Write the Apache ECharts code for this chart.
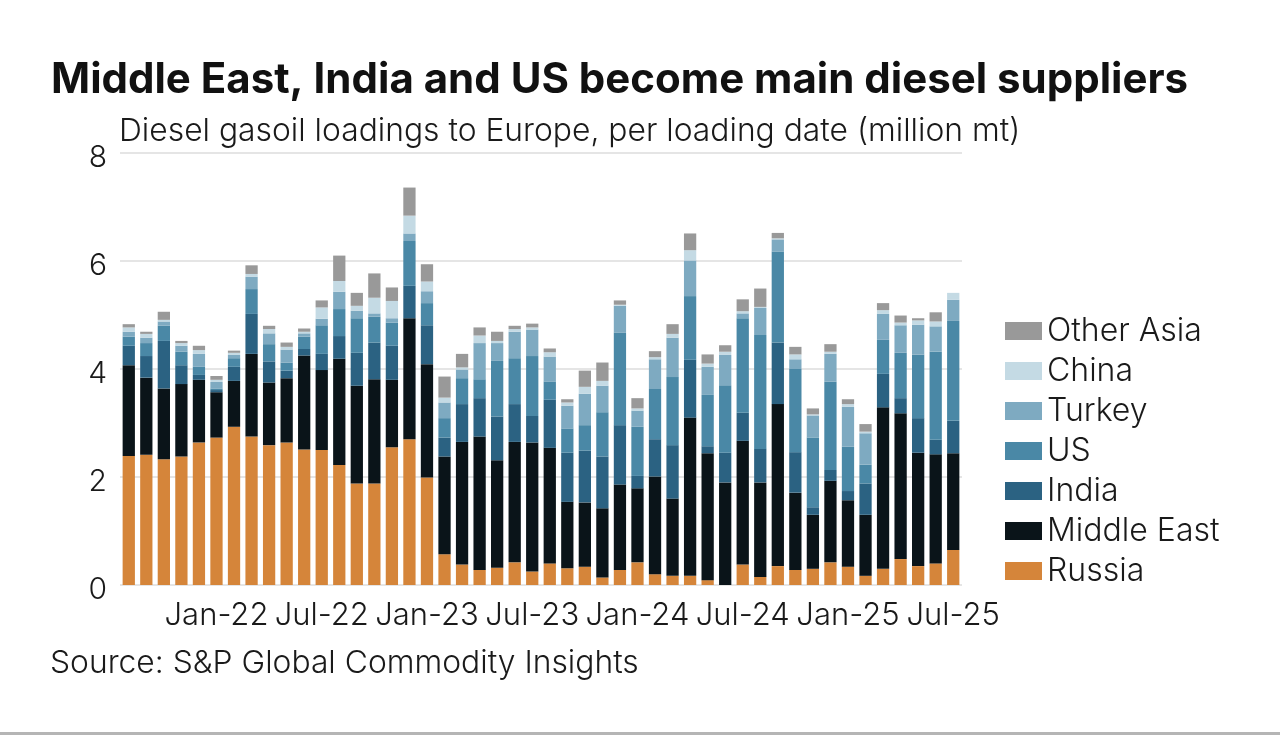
<!DOCTYPE html>
<html>
<head>
<meta charset="utf-8">
<script src="https://cdn.jsdelivr.net/npm/echarts@6/dist/echarts.min.js"></script>
<style>
html,body{margin:0;padding:0;background:#fff;}
#chart{width:1280px;height:735px;}
</style>
</head>
<body>
<div id="chart"></div>
<script>
var months = ['Aug-21','Sep-21','Oct-21','Nov-21','Dec-21',
  'Jan-22','Feb-22','Mar-22','Apr-22','May-22','Jun-22','Jul-22','Aug-22','Sep-22','Oct-22','Nov-22','Dec-22',
  'Jan-23','Feb-23','Mar-23','Apr-23','May-23','Jun-23','Jul-23','Aug-23','Sep-23','Oct-23','Nov-23','Dec-23',
  'Jan-24','Feb-24','Mar-24','Apr-24','May-24','Jun-24','Jul-24','Aug-24','Sep-24','Oct-24','Nov-24','Dec-24',
  'Jan-25','Feb-25','Mar-25','Apr-25','May-25','Jun-25','Jul-25'];

var russia = [2.39,2.41,2.33,2.38,2.64,2.73,2.93,2.75,2.59,2.64,2.51,2.50,2.22,1.88,1.88,2.55,2.70,1.99,
  0.57,0.38,0.28,0.32,0.42,0.25,0.40,0.31,0.34,0.14,0.28,0.42,0.20,0.17,0.17,0.09,0.00,0.38,0.15,0.35,
  0.28,0.30,0.42,0.34,0.17,0.30,0.48,0.35,0.40,0.65];
var middleEast = [1.68,1.43,1.31,1.34,1.16,0.84,0.85,1.53,1.16,1.19,1.74,1.48,1.97,1.81,1.93,1.25,2.24,2.10,
  1.81,2.27,2.47,1.99,2.23,2.39,2.14,1.23,1.19,1.28,1.58,1.37,1.81,1.43,2.93,2.35,1.90,2.29,1.75,3.00,
  1.43,1.00,1.51,1.23,1.13,2.99,2.70,2.10,2.02,1.79];
var india = [0.36,0.40,0.88,0.35,0.09,0.04,0.26,0.74,0.39,0.14,0.12,0.30,0.42,0.61,0.68,0.63,0.60,0.72,
  0.35,0.70,0.71,0.81,0.70,0.49,0.89,0.91,0.96,0.96,1.10,0.23,0.69,0.99,1.07,0.13,0.55,0.52,0.62,1.14,
  0.75,0.14,0.20,0.17,0.58,0.62,0.28,0.64,0.27,0.60];
var us = [0.17,0.24,0.28,0.25,0.15,0.03,0.16,0.46,0.32,0.15,0.23,0.53,0.50,0.64,0.48,0.43,0.83,0.41,
  0.36,0.48,0.35,1.03,0.85,1.11,0.34,0.45,0.47,0.82,1.71,0.91,0.93,1.26,1.18,0.95,1.25,1.75,2.11,1.68,
  1.54,1.29,1.64,0.82,0.35,0.63,0.84,1.18,1.63,1.85];
var turkey = [0.09,0.10,0.08,0.11,0.24,0.12,0.06,0.23,0.20,0.24,0.06,0.12,0.32,0.14,0.06,0.08,0.14,0.22,
  0.29,0.16,0.67,0.33,0.49,0.49,0.46,0.42,0.58,0.49,0.50,0.30,0.55,0.73,0.66,0.52,0.56,0.09,0.50,0.23,
  0.18,0.41,0.51,0.74,0.58,0.48,0.51,0.55,0.47,0.39];
var china = [0.08,0.07,0.03,0.05,0.07,0.04,0.04,0.05,0.08,0.05,0.03,0.21,0.20,0.09,0.29,0.32,0.33,0.18,
  0.09,0.04,0.14,0.04,0.05,0.04,0.08,0.06,0.13,0.09,0.02,0.04,0.04,0.07,0.19,0.06,0.06,0.04,0.02,0.02,
  0.09,0.02,0.04,0.05,0.03,0.07,0.05,0.08,0.09,0.13];
var otherAsia = [0.06,0.04,0.15,0.04,0.08,0.07,0.04,0.16,0.06,0.08,0.06,0.13,0.47,0.24,0.45,0.25,0.52,0.32,
  0.39,0.25,0.15,0.17,0.06,0.07,0.07,0.06,0.30,0.34,0.08,0.19,0.11,0.18,0.31,0.17,0.12,0.22,0.34,0.10,
  0.14,0.11,0.14,0.09,0.14,0.13,0.13,0.04,0.17,0.00];

var yTicks = [0, 2, 4, 6, 8];
var legendOrder = ['Other Asia','China','Turkey','US','India','Middle East','Russia'];

var FONT = 'Inter, Roboto, "Noto Sans", "Liberation Sans", sans-serif';
var TXT = '#1a1a1a';

var seriesDefs = [
  {name:'Russia', data:russia, color:'#d5853a'},
  {name:'Middle East', data:middleEast, color:'#0a1419'},
  {name:'India', data:india, color:'#2b6282'},
  {name:'US', data:us, color:'#4a88a6'},
  {name:'Turkey', data:turkey, color:'#7eaac1'},
  {name:'China', data:china, color:'#c4dae4'},
  {name:'Other Asia', data:otherAsia, color:'#999999'}
];

var chart = echarts.init(document.getElementById('chart'), null, {renderer:'canvas'});
chart.setOption({
  backgroundColor:'#ffffff',
  animation:false,
  graphic:[
    {type:'text', left:51, top:59, style:{text:'Middle East, India and US become main diesel suppliers',
      font:'bold 42px ' + FONT, fill:'#111'}},
    {type:'text', left:119, top:115, style:{text:'Diesel gasoil loadings to Europe, per loading date (million mt)',
      font:'300 31.8px ' + FONT, fill:TXT}},
    {type:'text', left:50, top:647, style:{text:'Source: S&P Global Commodity Insights',
      font:'300 31.8px ' + FONT, fill:TXT}},
    {type:'rect', shape:{x:0, y:732, width:1280, height:3}, style:{fill:'#b5b5b5'}}
  ],
  legend:{
    data:legendOrder,
    orient:'vertical',
    left:1000, top:310,
    itemWidth:37, itemHeight:18, itemGap:8,
    icon:'rect',
    selectedMode:false,
    textStyle:{fontFamily:FONT, fontWeight:300, fontSize:32, color:TXT, padding:[0,0,0,0]}
  },
  grid:{left:120, right:318, top:153, bottom:150},
  xAxis:{
    type:'category',
    data:months,
    axisLine:{show:false},
    axisTick:{show:false},
    axisLabel:{
      interval:function(i, v){ return v.indexOf('Jan') === 0 || v.indexOf('Jul') === 0; },
      fontFamily:FONT, fontWeight:300, fontSize:31, color:TXT, margin:15
    }
  },
  yAxis:{
    type:'value',
    min:yTicks[0], max:yTicks[yTicks.length-1], interval:2,
    axisLine:{show:false},
    axisTick:{show:false},
    splitLine:{lineStyle:{color:'#dddddd', width:1.5}},
    axisLabel:{fontFamily:FONT, fontWeight:300, fontSize:30, color:TXT, margin:13,
      verticalAlign:'top', lineHeight:9}
  },
  series:seriesDefs.map(function(s){
    return {
      name:s.name, type:'bar', stack:'total', data:s.data,
      barCategoryGap:'30%',
      itemStyle:{color:s.color},
      emphasis:{disabled:true}
    };
  })
});
</script>
</body>
</html>
